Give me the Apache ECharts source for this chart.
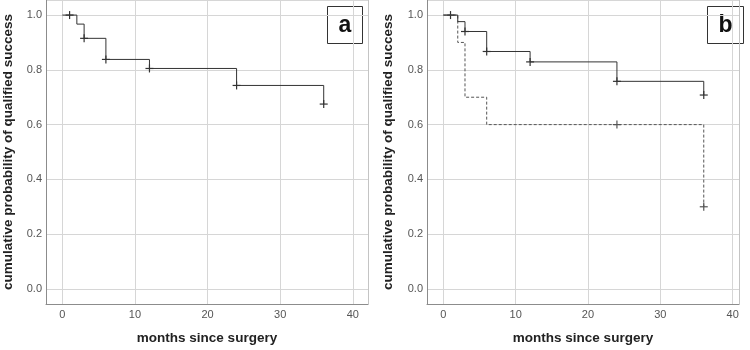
<!DOCTYPE html>
<html>
<head>
<meta charset="utf-8">
<script src="https://cdn.jsdelivr.net/npm/echarts@6/dist/echarts.min.js"></script>
<style>
  html, body { margin: 0; padding: 0; background: #fff; }
  #chart { width: 750px; height: 350px; }
</style>
</head>
<body>
<div id="chart"></div>
<script>
// panel a
const timesA = [0, 2, 3, 6, 12, 24, 36]
const survA = [1, 0.967, 0.915, 0.838, 0.805, 0.743, 0.675]
const censorTimesA = [1, 3, 6, 12, 24, 36]
const censorSurvA = [1, 0.915, 0.838, 0.805, 0.743, 0.675]

// panel b, solid group
const timesB1 = [0, 2, 3, 6, 12, 24, 36]
const survB1 = [1, 0.976, 0.94, 0.867, 0.829, 0.758, 0.708]
const censorTimesB1 = [1, 3, 6, 12, 24, 36]
const censorSurvB1 = [1, 0.94, 0.867, 0.829, 0.758, 0.708]

// panel b, dashed group
const timesB2 = [0, 2, 3, 6, 36]
const survB2 = [1, 0.9, 0.7, 0.6, 0.3]
const censorTimesB2 = [24, 36]
const censorSurvB2 = [0.6, 0.3]

const xTicks = [0, 10, 20, 30, 40]
const yTicks = [0, 0.2, 0.4, 0.6, 0.8, 1.0]
const panelLabels = ['a', 'b']
const xTitle = 'months since surgery'
const yTitle = 'cumulative probability of qualified success'

const font = 'Liberation Sans, Arial, sans-serif'
const zip = (xs, ys) => xs.map((x, i) => [x, ys[i]])

const chart = echarts.init(document.getElementById('chart'))

function xAxisFor(gridIndex, max) {
  return {
    type: 'value',
    gridIndex,
    min: -2.25,
    max,
    name: xTitle,
    nameLocation: 'middle',
    nameGap: 27,
    nameTextStyle: { fontFamily: font, fontSize: 13.5, fontWeight: 'bold', color: '#222' },
    axisLine: { onZero: false, lineStyle: { color: '#8c8c8c' } },
    axisTick: { show: false },
    axisLabel: {
      margin: 5,
      fontFamily: font,
      fontSize: 11,
      color: '#555',
      showMinLabel: false,
      showMaxLabel: false,
      formatter: (v) => (xTicks.includes(v) ? String(v) : ''),
    },
    splitLine: { lineStyle: { color: '#d6d6d6' } },
  }
}

function yAxisFor(gridIndex, gap) {
  return {
    type: 'value',
    gridIndex,
    min: -0.055,
    max: 1.055,
    name: yTitle,
    nameLocation: 'middle',
    nameGap: gap,
    nameTextStyle: { fontFamily: font, fontSize: 13.5, fontWeight: 'bold', color: '#222' },
    axisLine: { show: true, onZero: false, lineStyle: { color: '#8c8c8c' } },
    axisTick: { show: false },
    axisLabel: {
      margin: 4,
      fontFamily: font,
      fontSize: 11,
      color: '#555',
      showMinLabel: false,
      showMaxLabel: false,
      formatter: (v) => {
        const hit = yTicks.find((t) => Math.abs(t - v) < 1e-6)
        return hit === undefined ? '' : hit.toFixed(1)
      },
    },
    splitLine: { lineStyle: { color: '#d6d6d6' } },
  }
}

// right frame edge of each panel
function frameAxis(gridIndex) {
  return {
    type: 'value',
    gridIndex,
    position: 'right',
    min: -0.055,
    max: 1.055,
    axisLine: { show: true, onZero: false, lineStyle: { color: '#c4c4c4' } },
    axisTick: { show: false },
    axisLabel: { show: false },
    splitLine: { show: false },
  }
}

function stepLine(x, y, data, dashed) {
  return {
    type: 'line',
    xAxisIndex: x,
    yAxisIndex: y,
    step: 'end',
    showSymbol: false,
    silent: true,
    data,
    lineStyle: { color: dashed ? '#555' : '#333', width: 1, type: dashed ? [3, 2] : 'solid' },
  }
}

function censorMarks(x, y, data, color) {
  return {
    type: 'custom',
    xAxisIndex: x,
    yAxisIndex: y,
    silent: true,
    data,
    renderItem: (params, api) => {
      const p = api.coord([api.value(0), api.value(1)])
      const style = { stroke: color, lineWidth: 1.2 }
      return {
        type: 'group',
        children: [
          { type: 'line', shape: { x1: p[0] - 4, y1: p[1], x2: p[0] + 4, y2: p[1] }, style },
          { type: 'line', shape: { x1: p[0], y1: p[1] - 4, x2: p[0], y2: p[1] + 4 }, style },
        ],
      }
    },
  }
}

function labelBox(text, left, width) {
  return {
    type: 'group',
    left,
    top: 6,
    children: [
      { type: 'rect', shape: { x: 0, y: 0, width, height: 37 }, style: { fill: '#fff', stroke: '#333', lineWidth: 1 } },
      {
        type: 'text',
        x: width / 2,
        y: 19,
        style: { text, font: 'bold 23px ' + font, fill: '#111', align: 'center', verticalAlign: 'middle' },
      },
    ],
  }
}

chart.setOption({
  animation: false,
  grid: [
    { left: 46, right: 382, top: 0, bottom: 44 },
    { left: 427, right: 11, top: 0, bottom: 44 },
  ],
  xAxis: [xAxisFor(0, 42.1), xAxisFor(1, 40.87)],
  yAxis: [yAxisFor(0, 31), yAxisFor(1, 32), frameAxis(0), frameAxis(1)],
  series: [
    stepLine(0, 0, zip(timesA, survA), false),
    censorMarks(0, 0, zip(censorTimesA, censorSurvA), '#333'),
    stepLine(1, 1, zip(timesB2, survB2), true),
    stepLine(1, 1, zip(timesB1, survB1), false),
    censorMarks(1, 1, zip(censorTimesB1, censorSurvB1), '#333'),
    censorMarks(1, 1, zip(censorTimesB2, censorSurvB2), '#555'),
  ],
  graphic: [labelBox(panelLabels[0], 327, 35), labelBox(panelLabels[1], 707, 36)],
})
</script>
</body>
</html>
